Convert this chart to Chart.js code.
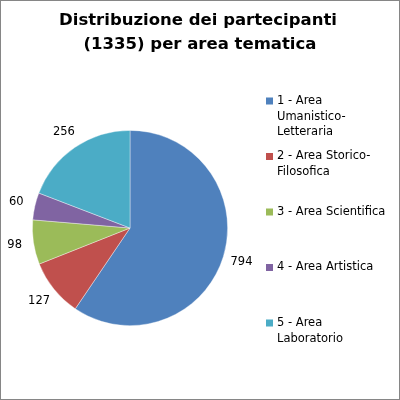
<!DOCTYPE html>
<html>
<head>
<meta charset="utf-8">
<script src="https://cdn.jsdelivr.net/npm/chart.js@4"></script>
<style>
    html, body { margin: 0; padding: 0; background: #fff; }
    #wrap { width: 400px; height: 400px; position: relative; }
</style>
</head>
<body>
<div id="wrap"><canvas id="pieChart" width="400" height="400"></canvas></div>
<script>
// Chart data
const titleLines = ['Distribuzione dei partecipanti', '(1335) per area tematica'];
const categories = [
    '1 - Area Umanistico-Letteraria',
    '2 - Area Storico-Filosofica',
    '3 - Area Scientifica',
    '4 - Area Artistica',
    '5 - Area Laboratorio'
];
// legend text as it wraps in the picture
const legendLines = [
    ['1 - Area', 'Umanistico-', 'Letteraria'],
    ['2 - Area Storico-', 'Filosofica'],
    ['3 - Area Scientifica'],
    ['4 - Area Artistica'],
    ['5 - Area', 'Laboratorio']
];
const participants = [794, 127, 98, 60, 256];
const sliceColors = ['#4F81BD', '#C0504D', '#9BBB59', '#8064A2', '#4BACC6'];

const FONT = "'DejaVu Sans', Verdana, sans-serif";

// Title, frame, legend and outside labels
const decorations = {
    id: 'decorations',
    afterDraw(chart) {
        const ctx = chart.ctx;
        ctx.save();

        // outer frame
        ctx.strokeStyle = '#868686';
        ctx.lineWidth = 1;
        ctx.strokeRect(0.5, 0.5, 399, 399);

        // title
        ctx.fillStyle = '#000';
        ctx.font = 'bold 16.5px ' + FONT;
        ctx.textAlign = 'center';
        ctx.textBaseline = 'middle';
        ctx.fillText(titleLines[0], 198, 21);
        ctx.fillText(titleLines[1], 200, 45);

        // values outside the slices
        ctx.font = '11.5px ' + FONT;
        const meta = chart.getDatasetMeta(0);
        meta.data.forEach((arc, i) => {
            const p = arc.getProps(['x', 'y', 'startAngle', 'endAngle', 'outerRadius'], true);
            const mid = (p.startAngle + p.endAngle) / 2;
            const d = p.outerRadius + 19;
            ctx.fillText(String(participants[i]), p.x + Math.cos(mid) * d, p.y + Math.sin(mid) * d);
        });

        // legend
        ctx.textAlign = 'left';
        ctx.font = '11.5px ' + FONT;
        legendLines.forEach((lines, i) => {
            const y0 = 101 + i * 55.5;
            ctx.fillStyle = sliceColors[i];
            ctx.fillRect(266, y0 - 3.5, 7, 7);
            ctx.fillStyle = '#000';
            lines.forEach((line, j) => {
                ctx.fillText(line, 277, y0 + j * 15.7);
            });
        });

        ctx.restore();
    }
};

new Chart(document.getElementById('pieChart'), {
    type: 'pie',
    data: {
        labels: categories,
        datasets: [{
            data: participants,
            backgroundColor: sliceColors,
            borderColor: 'rgba(255, 255, 255, 0.5)',
            borderWidth: 0.75
        }]
    },
    options: {
        responsive: false,
        animation: false,
        events: [],
        layout: {
            padding: { left: 32, top: 130, right: 172, bottom: 74 }
        },
        plugins: {
            legend: { display: false },
            title: { display: false },
            tooltip: { enabled: false }
        }
    },
    plugins: [decorations]
});
</script>
</body>
</html>
